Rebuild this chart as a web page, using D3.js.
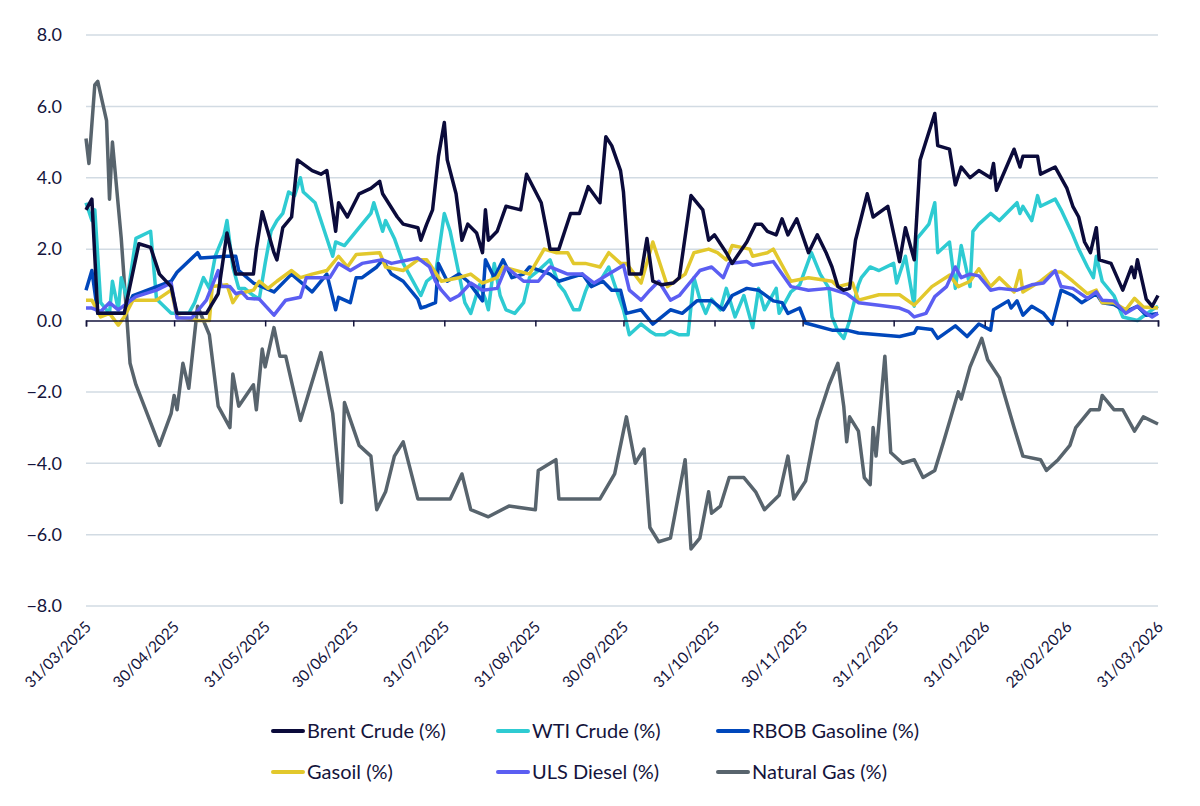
<!DOCTYPE html>
<html>
<head>
<meta charset="utf-8">
<script src="https://cdn.jsdelivr.net/npm/d3@7"></script>
<style>
  body { margin: 0; background: #fff; }
  svg text { font-family: Lato, "Open Sans", sans-serif; fill: #14143c; }
</style>
</head>
<body>
<svg id="chart" width="1200" height="806"></svg>
<script>
// day offsets from 31/03/2025, value in %
var startDate = "2025-03-31";
var endDate = "2026-03-31";
var tickDates = ["2025-03-31","2025-04-30","2025-05-31","2025-06-30","2025-07-31","2025-08-31",
  "2025-09-30","2025-10-31","2025-11-30","2025-12-31","2026-01-31","2026-02-28","2026-03-31"];
var yTicks = [-8, -6, -4, -2, 0, 2, 4, 6, 8];

var brent = [[0,3.1],[2,3.4],[4,0.2],[13,0.2],[18,2.15],[22,2.05],[25,1.3],[29,0.95],[31,0.2],[41,0.2],
  [45,0.75],[48,2.45],[51,1.3],[57,1.3],[58,2.0],[60,3.05],[64,1.9],[65,1.7],[67,2.6],[70,2.9],[72,4.5],
  [77,4.2],[80,4.1],[82,4.2],[85,2.5],[86,3.3],[89,2.9],[93,3.55],[97,3.7],[100,3.9],[101,3.55],[106,2.9],
  [108,2.7],[113,2.6],[114,2.25],[116,2.7],[118,3.1],[120,4.6],[122,5.55],[123,4.5],[126,3.55],[128,2.25],
  [130,2.7],[133,2.45],[135,1.9],[136,3.1],[137,2.25],[140,2.5],[143,3.2],[148,3.1],[150,4.1],[155,3.3],
  [157,2.45],[158,2.0],[161,2.0],[163,2.5],[165,3.0],[168,3.0],[171,3.75],[175,3.3],[177,5.15],[179,4.9],
  [182,4.2],[183,3.6],[185,1.3],[189,1.3],[191,2.3],[193,1.1],[196,1.0],[200,1.05],[202,1.2],[206,3.5],
  [210,3.1],[212,2.25],[214,2.4],[218,1.9],[220,1.6],[225,2.2],[228,2.7],[230,2.7],[232,2.5],[235,2.4],
  [237,2.85],[239,2.4],[242,2.85],[246,1.9],[249,2.4],[252,1.9],[254,1.5],[256,0.95],[258,0.85],[260,0.9],
  [262,2.25],[266,3.55],[268,2.9],[273,3.2],[276,2.05],[277,1.65],[279,2.6],[282,1.7],[284,4.5],[289,5.8],
  [290,4.9],[294,4.8],[296,3.8],[298,4.3],[301,4.0],[304,4.2],[308,4.0],[309,4.4],[310,3.65],[316,4.8],
  [318,4.3],[319,4.6],[324,4.6],[325,4.1],[330,4.3],[334,3.7],[336,3.2],[338,2.9],[340,2.2],[342,1.9],
  [344,2.6],[345,1.7],[349,1.6],[353,0.85],[356,1.5],[357,1.2],[358,1.7],[361,0.6],[363,0.4],[365,0.7]];

var wti = [[0,3.3],[2,2.8],[3,3.1],[5,0.5],[8,0.2],[9,1.1],[11,0.3],[12,1.2],[14,0.6],[17,2.3],[22,2.5],
  [24,0.6],[29,0.2],[35,0.2],[37,0.5],[40,1.2],[42,0.9],[44,1.8],[47,2.4],[48,2.8],[50,1.5],[52,0.9],
  [54,0.9],[57,0.7],[59,0.6],[61,1.6],[63,2.5],[65,2.8],[67,3.0],[69,3.6],[71,3.5],[73,4.0],[74,3.6],
  [78,3.3],[80,2.8],[84,1.8],[85,2.2],[88,2.1],[93,2.6],[97,3.0],[98,3.3],[101,2.5],[102,2.8],[105,2.3],
  [108,1.6],[114,0.7],[116,1.1],[119,1.3],[122,3.0],[124,2.5],[127,1.3],[129,0.5],[131,0.2],[134,1.0],
  [136,0.6],[137,0.3],[139,1.6],[141,0.7],[143,0.3],[146,0.2],[149,0.5],[151,1.2],[154,1.4],[158,1.7],
  [161,1.0],[163,0.8],[166,0.3],[168,0.3],[170,0.8],[171,1.0],[175,1.1],[178,1.5],[180,1.0],[183,0.3],
  [185,-0.4],[189,-0.1],[192,-0.3],[194,-0.4],[197,-0.4],[199,-0.3],[202,-0.4],[205,-0.4],[207,1.2],
  [209,0.6],[211,0.2],[213,0.6],[216,0.3],[218,0.9],[221,0.1],[224,0.7],[227,-0.2],[229,0.9],[231,0.3],
  [235,0.9],[236,0.2],[240,0.8],[243,1.0],[247,1.9],[250,1.3],[253,0.9],[254,0.1],[256,-0.3],[258,-0.5],
  [260,0.0],[263,1.0],[264,1.2],[267,1.5],[270,1.4],[275,1.6],[276,1.05],[279,1.8],[282,0.4],[283,2.3],
  [287,2.7],[289,3.3],[290,1.9],[294,2.2],[296,0.9],[298,2.1],[301,0.95],[302,2.5],[304,2.7],[308,3.0],
  [311,2.8],[317,3.3],[318,3.0],[319,3.2],[322,2.8],[324,3.5],[325,3.2],[330,3.4],[332,3.1],[336,2.4],
  [338,2.0],[341,1.5],[343,1.2],[344,1.8],[346,1.1],[350,0.7],[353,0.1],[358,0.0],[363,0.3],[365,0.4]];

var rbob = [[0,0.85],[2,1.4],[4,0.2],[13,0.2],[16,0.7],[29,1.1],[31,1.35],[38,1.9],[39,1.75],[48,1.8],
  [51,1.8],[52,1.4],[57,1.05],[64,0.8],[70,1.3],[77,0.8],[82,1.3],[85,0.3],[86,0.65],[90,0.5],[92,1.2],
  [94,1.2],[99,1.5],[101,1.7],[104,1.3],[108,1.1],[113,0.6],[114,0.35],[116,0.4],[119,0.5],[120,1.6],
  [123,1.1],[127,1.3],[130,1.1],[135,0.55],[136,1.7],[139,1.2],[142,1.7],[145,1.2],[149,1.3],[151,1.5],
  [158,1.3],[161,1.1],[165,1.2],[169,1.3],[172,0.95],[176,1.1],[179,0.85],[182,0.85],[184,0.2],[189,0.3],
  [193,-0.1],[199,0.3],[203,0.2],[208,0.55],[213,0.55],[217,0.3],[220,0.7],[225,0.9],[229,0.85],[234,0.55],
  [237,0.5],[239,0.2],[243,0.35],[245,-0.07],[254,-0.27],[259,-0.27],[263,-0.35],[270,-0.4],[277,-0.45],
  [282,-0.35],[283,-0.2],[288,-0.25],[290,-0.5],[296,-0.15],[300,-0.45],[304,-0.1],[308,-0.27],[309,0.3],
  [314,0.55],[315,0.35],[317,0.55],[319,0.15],[322,0.4],[326,0.2],[329,-0.1],[332,0.85],[336,0.7],
  [339,0.5],[344,0.75],[346,0.5],[350,0.45],[354,0.25],[358,0.4],[361,0.15],[365,0.2]];

var gasoil = [[0,0.57],[2,0.57],[5,0.1],[8,0.2],[11,-0.13],[13,0.1],[16,0.57],[24,0.57],[29,0.85],[31,0.1],
  [38,0.0],[42,0.0],[43,0.95],[48,1.0],[50,0.5],[52,0.75],[57,0.85],[59,1.1],[62,0.9],[65,1.1],[70,1.4],
  [73,1.2],[77,1.3],[82,1.4],[86,1.8],[89,1.5],[92,1.85],[100,1.9],[102,1.5],[108,1.4],[113,1.7],[116,1.7],
  [121,1.1],[127,1.2],[131,1.3],[135,1.05],[140,1.2],[142,1.5],[151,1.3],[156,2.0],[160,1.9],[164,1.9],
  [166,1.6],[170,1.6],[175,1.5],[178,1.9],[182,1.6],[184,1.6],[189,1.05],[193,2.2],[198,0.95],[204,1.3],
  [207,1.9],[212,2.0],[215,1.9],[218,1.7],[220,2.1],[226,2.0],[227,1.8],[232,1.9],[234,2.0],[240,1.1],
  [246,1.2],[254,1.1],[256,0.95],[261,1.05],[263,0.57],[270,0.72],[277,0.72],[282,0.43],[288,0.95],
  [294,1.27],[297,0.95],[301,1.1],[304,1.45],[308,0.95],[311,1.2],[316,0.8],[318,1.4],[319,0.8],[325,1.1],
  [329,1.36],[332,1.36],[336,1.1],[341,0.75],[344,0.85],[346,0.5],[350,0.5],[354,0.3],[357,0.62],
  [360,0.38],[365,0.35]];

var diesel = [[0,0.35],[2,0.35],[5,0.25],[8,0.5],[11,0.3],[17,0.67],[24,0.85],[29,1.05],[31,0.07],[36,0.07],
  [41,0.57],[45,1.4],[46,0.95],[49,0.95],[51,0.75],[53,0.8],[55,0.62],[59,0.6],[64,0.15],[68,0.57],
  [73,0.65],[75,1.2],[83,1.2],[86,1.6],[90,1.4],[94,1.6],[101,1.7],[104,1.6],[113,1.75],[117,1.5],
  [119,1.1],[121,0.85],[124,0.57],[127,0.7],[131,1.05],[135,0.85],[140,0.9],[143,1.5],[149,1.1],[154,1.1],
  [158,1.5],[164,1.3],[169,1.3],[173,1.05],[178,1.3],[183,1.55],[185,0.85],[189,0.57],[192,0.85],[195,1.1],
  [199,0.57],[202,0.7],[206,1.1],[209,1.4],[213,1.5],[217,1.2],[219,1.6],[225,1.65],[227,1.55],[234,1.65],
  [240,0.95],[246,0.85],[253,0.9],[259,0.75],[263,0.5],[270,0.43],[277,0.35],[280,0.25],[282,0.1],
  [286,0.2],[289,0.67],[293,0.95],[296,1.5],[298,1.2],[301,1.3],[304,1.25],[308,0.85],[311,0.9],[317,0.85],
  [322,1.0],[326,1.05],[330,1.4],[332,0.95],[336,0.9],[341,0.62],[344,0.8],[346,0.57],[350,0.55],
  [354,0.2],[358,0.4],[361,0.2],[363,0.1],[365,0.2]];

var natGas = [[0,5.1],[1,4.4],[3,6.6],[4,6.7],[7,5.6],[8,3.4],[9,5.0],[12,2.3],[15,-1.2],[17,-1.8],[25,-3.5],
  [29,-2.6],[30,-2.1],[31,-2.5],[33,-1.2],[35,-1.9],[38,0.4],[42,-0.4],[45,-2.4],[49,-3.0],[50,-1.5],
  [52,-2.4],[57,-1.8],[58,-2.5],[60,-0.8],[61,-1.3],[64,-0.2],[66,-1.0],[68,-1.0],[73,-2.8],[80,-0.9],
  [84,-2.6],[87,-5.1],[88,-2.3],[93,-3.5],[97,-3.8],[99,-5.3],[102,-4.8],[105,-3.8],[108,-3.4],[113,-5.0],
  [119,-5.0],[124,-5.0],[128,-4.3],[131,-5.3],[137,-5.5],[144,-5.2],[153,-5.3],[154,-4.2],[160,-3.9],
  [161,-5.0],[168,-5.0],[175,-5.0],[180,-4.3],[184,-2.7],[187,-4.0],[190,-3.6],[192,-5.8],[195,-6.2],
  [199,-6.1],[204,-3.9],[206,-6.4],[209,-6.1],[212,-4.8],[213,-5.4],[216,-5.2],[219,-4.4],[224,-4.4],
  [228,-4.8],[231,-5.3],[236,-4.9],[239,-3.8],[241,-5.0],[245,-4.5],[249,-2.8],[253,-1.8],[256,-1.2],
  [258,-2.4],[259,-3.4],[260,-2.7],[263,-3.1],[265,-4.4],[267,-4.6],[268,-3.0],[269,-3.8],[272,-1.0],
  [274,-3.7],[278,-4.0],[282,-3.9],[285,-4.4],[289,-4.2],[292,-3.4],[297,-2.0],[298,-2.2],[301,-1.3],
  [305,-0.5],[307,-1.1],[311,-1.6],[316,-3.0],[319,-3.8],[325,-3.9],[327,-4.2],[331,-3.9],[335,-3.5],
  [337,-3.0],[342,-2.5],[345,-2.5],[346,-2.1],[350,-2.5],[353,-2.5],[357,-3.1],[360,-2.7],[365,-2.9]];

var seriesNames = ["Brent Crude (%)", "WTI Crude (%)", "RBOB Gasoline (%)", "Gasoil (%)", "ULS Diesel (%)", "Natural Gas (%)"];
var seriesData = [brent, wti, rbob, gasoil, diesel, natGas];
var seriesColors = ["#0b0b3b", "#2ecbd2", "#0047bb", "#e2c82c", "#5b5ef2", "#58646d"];
// draw order: gas behind, brent on top
var drawOrder = [5, 1, 2, 3, 4, 0];

var svg = d3.select("#chart");
var margin = {left: 86, right: 42, top: 35, bottom: 200};
var W = 1200, H = 806;
var parse = d3.utcParse("%Y-%m-%d");
var t0 = parse(startDate);

var x = d3.scaleUtc()
  .domain([t0, parse(endDate)])
  .range([margin.left, W - margin.right]);
var y = d3.scaleLinear()
  .domain([-8, 8])
  .range([H - margin.bottom, margin.top]);

// gridlines
svg.append("g").selectAll("line")
  .data(yTicks.filter(function(d) { return d !== 0; }))
  .enter().append("line")
  .attr("x1", margin.left).attr("x2", W - margin.right)
  .attr("y1", function(d) { return y(d); }).attr("y2", function(d) { return y(d); })
  .attr("stroke", "#d2dbe3").attr("stroke-width", 1.5);

// y labels
svg.append("g").selectAll("text")
  .data(yTicks)
  .enter().append("text")
  .attr("x", 62)
  .attr("y", function(d) { return y(d); })
  .attr("dy", "0.35em")
  .attr("text-anchor", "end")
  .attr("font-size", 18)
  .text(function(d) { return d3.format(".1f")(d); });

// lines
var line = d3.line()
  .x(function(d) { return x(d3.utcDay.offset(t0, d[0])); })
  .y(function(d) { return y(d[1]); });

drawOrder.forEach(function(i) {
  svg.append("path")
    .datum(seriesData[i])
    .attr("fill", "none")
    .attr("stroke", seriesColors[i])
    .attr("stroke-width", 3.5)
    .attr("stroke-linejoin", "round")
    .attr("d", line);
});

// x axis at zero
var xAxis = d3.axisBottom(x)
  .tickValues(tickDates.map(parse))
  .tickSize(6)
  .tickFormat(d3.utcFormat("%d/%m/%Y"));
var gx = svg.append("g")
  .attr("transform", "translate(0," + y(0) + ")")
  .call(xAxis);
gx.select(".domain").attr("stroke", "#14143c").attr("stroke-width", 1.5);
gx.selectAll(".tick line").attr("stroke", "#14143c").attr("stroke-width", 1.5);
gx.selectAll(".tick text").remove();

// rotated date labels under the plot
svg.append("g").selectAll("text")
  .data(tickDates)
  .enter().append("text")
  .attr("transform", function(d) {
    return "translate(" + (x(parse(d)) + 6) + "," + (y(-8) + 22) + ") rotate(-45)";
  })
  .attr("text-anchor", "end")
  .attr("font-size", 15.5)
  .text(function(d) { return d3.utcFormat("%d/%m/%Y")(parse(d)); });

// legend
var legendX = [270, 495, 715];
var legendY = [731, 772];
var lg = svg.append("g").selectAll("g")
  .data(seriesNames)
  .enter().append("g")
  .attr("transform", function(d, i) {
    return "translate(" + legendX[i % 3] + "," + legendY[Math.floor(i / 3)] + ")";
  });
lg.append("line")
  .attr("x1", 3).attr("x2", 33)
  .attr("stroke", function(d, i) { return seriesColors[i]; })
  .attr("stroke-width", 4)
  .attr("stroke-linecap", "round");
lg.append("text")
  .attr("x", 37).attr("dy", "0.35em")
  .attr("font-size", 20)
  .text(function(d) { return d; });
</script>
</body>
</html>
